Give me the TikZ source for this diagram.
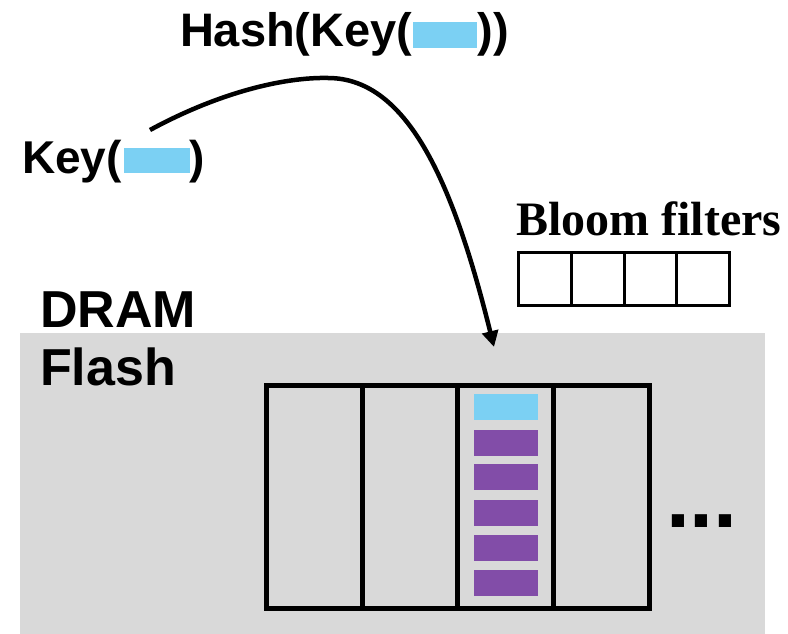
\documentclass[tikz,border=0pt]{standalone}
\usepackage{fontspec}
\setmainfont{Liberation Sans}
\newfontfamily\timesfont{Liberation Serif}
\usetikzlibrary{arrows.meta}
\definecolor{keyblue}{HTML}{7BD0F3}
\definecolor{valpurple}{HTML}{824DA8}
\definecolor{flashgray}{HTML}{D9D9D9}
\begin{document}
\begin{tikzpicture}[x=1pt,y=-1pt,
  lbl/.style={inner sep=0pt, outer sep=0pt, anchor=base west, font=\fontsize{46}{50}\selectfont\bfseries},
  biglbl/.style={inner sep=0pt, outer sep=0pt, anchor=base west, font=\fontsize{52}{56}\selectfont\bfseries},
  fcell/.style={draw=black, line width=5pt, minimum width=95.6pt, minimum height=223.5pt, inner sep=0pt, outer sep=0pt},
  bcell/.style={draw=black, line width=3pt, minimum width=52.75pt, minimum height=53pt, inner sep=0pt, outer sep=0pt},
  item/.style={inner sep=0pt, outer sep=0pt, minimum width=64pt, minimum height=26pt},
  kv/.style={item, fill=keyblue},
  vv/.style={item, fill=valpurple},
  hasharrow/.style={line width=4.5pt, -{Triangle[length=16pt,width=16pt]}}
]
\useasboundingbox (0,0) rectangle (788,634);
% Flash region
\fill[flashgray] (20,333) rectangle (765,634);

% labels
\node[lbl, font=\fontsize{47}{50}\selectfont\bfseries] (hash) at (180,47) {Hash(Key(\hspace{1pt}\textcolor{keyblue}{\rule[-1pt]{64pt}{26pt}}))};
\node[lbl] (key) at (22,173) {Key(\hspace{2pt}\textcolor{keyblue}{\rule{66pt}{25pt}})};
\node[biglbl] (dram) at (40,327) {DRAM};
\node[biglbl] (flash) at (40,385) {Flash};
\node[inner sep=0pt, outer sep=0pt, anchor=base west, font=\timesfont\fontsize{48}{52}\selectfont\bfseries] (bloomlbl) at (516,235) {Bloom filters};

% bloom filter cells
\node[bcell] (b1) at (544.875,279) {};
\node[bcell] (b2) at (597.625,279) {};
\node[bcell] (b3) at (650.375,279) {};
\node[bcell] (b4) at (703.125,279) {};

% flash buckets
\node[fcell] (f1) at (314.5,496.85) {};
\node[fcell] (f2) at (410.1,496.85) {};
\node[fcell] (f3) at (505.7,496.85) {};
\node[fcell] (f4) at (601.3,496.85) {};

% items in bucket 3
\node[kv] (k1) at (506,407) {};
\node[vv] (v1) at (506,443) {};
\node[vv] (v2) at (506,477) {};
\node[vv] (v3) at (506,513) {};
\node[vv] (v4) at (506,548) {};
\node[vv] (v5) at (506,583) {};

% ellipsis
\node[inner sep=0pt, outer sep=0pt, anchor=base west, font=\fontsize{86}{90}\selectfont\bfseries] (dots) at (666,527) {...};

% hash arrow
\coordinate (kstart) at (150,130);
\coordinate (peak) at (328,78);
\coordinate (tip) at (494,347);
\draw[hasharrow] (kstart) .. controls (220,92) and (285,77) .. (peak)
  .. controls (410,78) and (455,190) .. (tip);
\end{tikzpicture}
\end{document}
